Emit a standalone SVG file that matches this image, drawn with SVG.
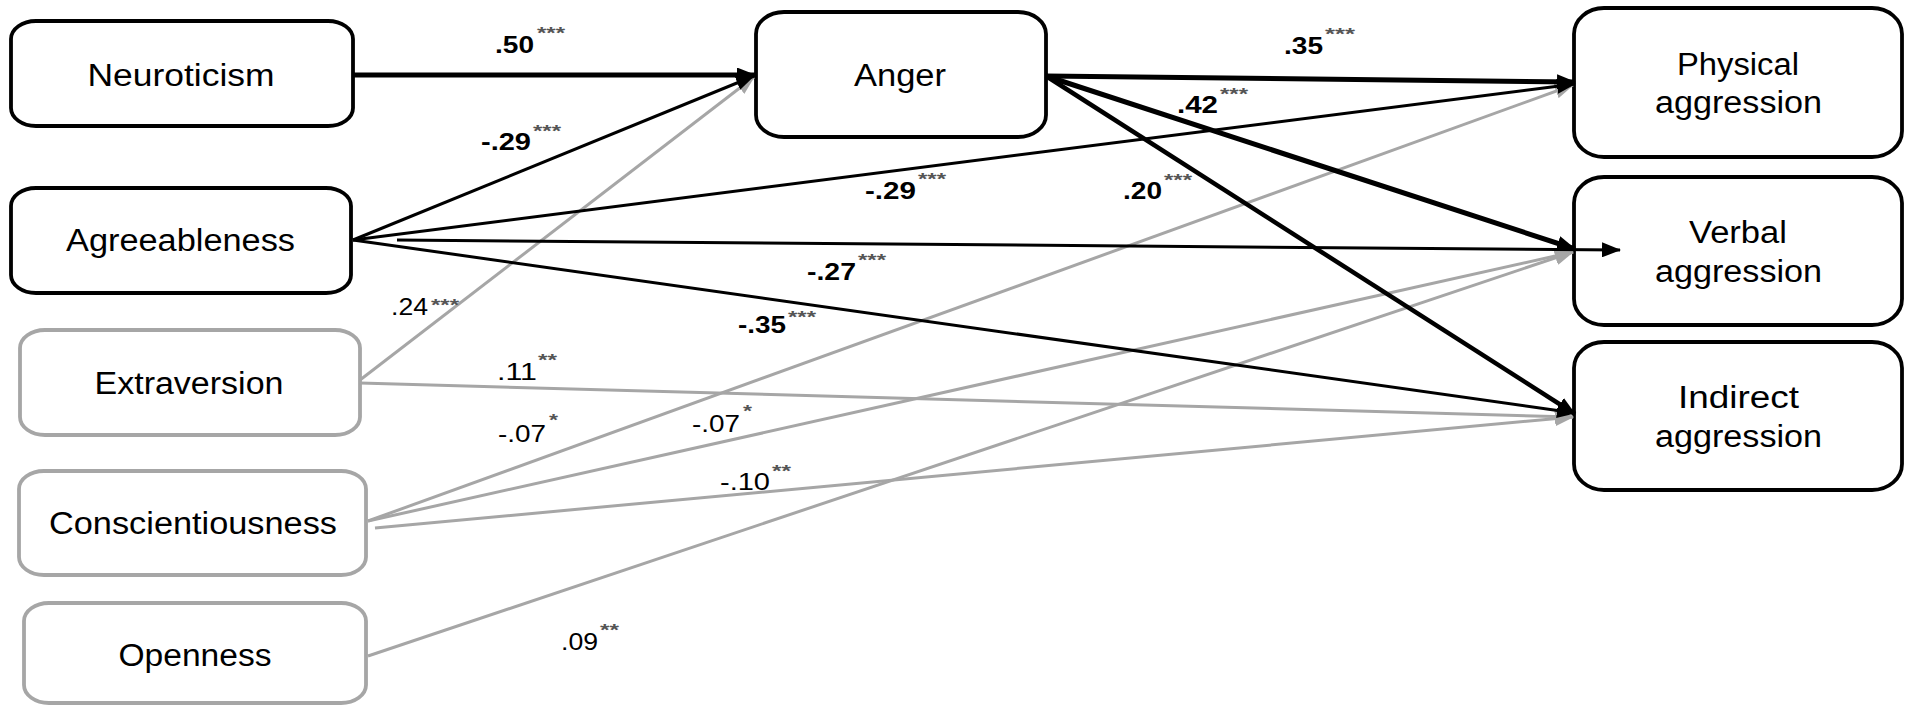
<svg xmlns="http://www.w3.org/2000/svg" width="1907" height="707" viewBox="0 0 1907 707">
<style>
.bg{fill:#ffffff}
.box{fill:#ffffff;stroke:#000000;stroke-width:3.8}
.gbox{fill:#ffffff;stroke:#a6a6a6;stroke-width:3.8}
.lbl{font-family:"Liberation Sans",Arial,sans-serif;font-size:31px;fill:#000000;text-anchor:middle}
.num{font-family:"Liberation Sans",Arial,sans-serif;font-size:23px;fill:#000000;text-anchor:end}
.b{font-weight:bold}
.st{font-family:"Liberation Sans",Arial,sans-serif;font-size:16px;font-weight:bold;fill:#555555}
.k{stroke:#000000;fill:none}
.g{stroke:#a6a6a6;fill:none;stroke-width:3}
</style>
<defs>
<marker id="ak" markerUnits="userSpaceOnUse" markerWidth="19" markerHeight="15" refX="18" refY="7.5" orient="auto">
<path d="M0,0 L19,7.5 L0,15 z" fill="#000000"/>
</marker>
<marker id="ag" markerUnits="userSpaceOnUse" markerWidth="19" markerHeight="15" refX="18" refY="7.5" orient="auto">
<path d="M0,0 L19,7.5 L0,15 z" fill="#a6a6a6"/>
</marker>
</defs>
<rect class="bg" x="0" y="0" width="1907" height="707"/>

<g id="neuroticism">
<rect class="box" x="11" y="21" width="342" height="105" rx="25" ry="18"/>
<text class="lbl" x="181" y="86" textLength="187" lengthAdjust="spacingAndGlyphs">Neuroticism</text>
</g>
<g id="agreeableness">
<rect class="box" x="11" y="188" width="340" height="105" rx="25" ry="18"/>
<text class="lbl" x="180.5" y="251" textLength="229" lengthAdjust="spacingAndGlyphs">Agreeableness</text>
</g>
<g id="extraversion">
<rect class="gbox" x="20" y="330" width="340" height="105" rx="25" ry="18"/>
<text class="lbl" x="189" y="394" textLength="189" lengthAdjust="spacingAndGlyphs">Extraversion</text>
</g>
<g id="conscientiousness">
<rect class="gbox" x="19" y="471" width="347" height="104" rx="25" ry="18"/>
<text class="lbl" x="193" y="534" textLength="288" lengthAdjust="spacingAndGlyphs">Conscientiousness</text>
</g>
<g id="openness">
<rect class="gbox" x="24" y="603" width="342" height="100" rx="25" ry="18"/>
<text class="lbl" x="195" y="666" textLength="153" lengthAdjust="spacingAndGlyphs">Openness</text>
</g>
<g id="anger">
<rect class="box" x="756" y="12" width="290" height="125" rx="28" ry="22"/>
<text class="lbl" x="900" y="86" textLength="92" lengthAdjust="spacingAndGlyphs">Anger</text>
</g>
<g id="physical">
<rect class="box" x="1574" y="8" width="328" height="149" rx="30" ry="26"/>
<text class="lbl" x="1738" y="75" textLength="122" lengthAdjust="spacingAndGlyphs">Physical</text>
<text class="lbl" x="1738.5" y="113" textLength="167" lengthAdjust="spacingAndGlyphs">aggression</text>
</g>
<g id="verbal">
<rect class="box" x="1574" y="177" width="328" height="148" rx="30" ry="26"/>
<text class="lbl" x="1738" y="243" textLength="98" lengthAdjust="spacingAndGlyphs">Verbal</text>
<text class="lbl" x="1738.5" y="282" textLength="167" lengthAdjust="spacingAndGlyphs">aggression</text>
</g>
<g id="indirect">
<rect class="box" x="1574" y="342" width="328" height="148" rx="30" ry="26"/>
<text class="lbl" x="1738.5" y="408" textLength="121" lengthAdjust="spacingAndGlyphs">Indirect</text>
<text class="lbl" x="1738.5" y="447" textLength="167" lengthAdjust="spacingAndGlyphs">aggression</text>
</g>

<g id="connectors">
<line class="g" x1="360" y1="380" x2="754" y2="77" marker-end="url(#ag)"/>
<line class="g" x1="360" y1="383" x2="1573" y2="417" marker-end="url(#ag)"/>
<line class="g" x1="368" y1="521" x2="1573" y2="85" marker-end="url(#ag)"/>
<line class="g" x1="368" y1="521" x2="1573" y2="252" marker-end="url(#ag)"/>
<line class="g" x1="375" y1="528" x2="1573" y2="417" marker-end="url(#ag)"/>
<line class="g" x1="368" y1="656" x2="1573" y2="252" marker-end="url(#ag)"/>
<line class="k" stroke-width="5" x1="353" y1="75" x2="755" y2="75" marker-end="url(#ak)"/>
<line class="k" stroke-width="3" x1="353" y1="240" x2="754" y2="76" marker-end="url(#ak)"/>
<line class="k" stroke-width="3" x1="353" y1="240" x2="1575" y2="84" marker-end="url(#ak)"/>
<line class="k" stroke-width="3" x1="397" y1="240" x2="1620" y2="250" marker-end="url(#ak)"/>
<line class="k" stroke-width="3" x1="353" y1="240" x2="1575" y2="413" marker-end="url(#ak)"/>
<line class="k" stroke-width="5" x1="1046" y1="76" x2="1575" y2="82" marker-end="url(#ak)"/>
<line class="k" stroke-width="5" x1="1046" y1="76" x2="1575" y2="249" marker-end="url(#ak)"/>
<line class="k" stroke-width="4.5" x1="1046" y1="76" x2="1575" y2="414" marker-end="url(#ak)"/>
</g>

<g id="labels">
<text class="num b" x="534" y="53" textLength="39" lengthAdjust="spacingAndGlyphs">.50</text>
<text class="st" x="537" y="39" textLength="28" lengthAdjust="spacingAndGlyphs">***</text>
<text class="num b" x="531" y="150" textLength="50" lengthAdjust="spacingAndGlyphs">-.29</text>
<text class="st" x="533" y="136.5" textLength="28" lengthAdjust="spacingAndGlyphs">***</text>
<text class="num b" x="1323" y="54" textLength="39" lengthAdjust="spacingAndGlyphs">.35</text>
<text class="st" x="1325" y="39.5" textLength="30" lengthAdjust="spacingAndGlyphs">***</text>
<text class="num b" x="1218" y="113" textLength="41" lengthAdjust="spacingAndGlyphs">.42</text>
<text class="st" x="1220" y="99.5" textLength="28" lengthAdjust="spacingAndGlyphs">***</text>
<text class="num b" x="916" y="199" textLength="51" lengthAdjust="spacingAndGlyphs">-.29</text>
<text class="st" x="918" y="184.5" textLength="28" lengthAdjust="spacingAndGlyphs">***</text>
<text class="num b" x="1162" y="199" textLength="39" lengthAdjust="spacingAndGlyphs">.20</text>
<text class="st" x="1164" y="186" textLength="28" lengthAdjust="spacingAndGlyphs">***</text>
<text class="num b" x="856" y="280" textLength="49" lengthAdjust="spacingAndGlyphs">-.27</text>
<text class="st" x="858" y="266" textLength="28" lengthAdjust="spacingAndGlyphs">***</text>
<text class="num b" x="786" y="333" textLength="48" lengthAdjust="spacingAndGlyphs">-.35</text>
<text class="st" x="788" y="323" textLength="28" lengthAdjust="spacingAndGlyphs">***</text>
<text class="num" x="428" y="315" textLength="37" lengthAdjust="spacingAndGlyphs">.24</text>
<text class="st" x="431" y="311" textLength="28" lengthAdjust="spacingAndGlyphs">***</text>
<text class="num" x="537" y="380" textLength="40" lengthAdjust="spacingAndGlyphs">.11</text>
<text class="st" x="538" y="366" textLength="19" lengthAdjust="spacingAndGlyphs">**</text>
<text class="num" x="546" y="442" textLength="48" lengthAdjust="spacingAndGlyphs">-.07</text>
<text class="st" x="549" y="426" textLength="9" lengthAdjust="spacingAndGlyphs">*</text>
<text class="num" x="740" y="432" textLength="48" lengthAdjust="spacingAndGlyphs">-.07</text>
<text class="st" x="743" y="417" textLength="9" lengthAdjust="spacingAndGlyphs">*</text>
<text class="num" x="770" y="490" textLength="50" lengthAdjust="spacingAndGlyphs">-.10</text>
<text class="st" x="772" y="477" textLength="19" lengthAdjust="spacingAndGlyphs">**</text>
<text class="num" x="598" y="650" textLength="37" lengthAdjust="spacingAndGlyphs">.09</text>
<text class="st" x="600" y="636" textLength="19" lengthAdjust="spacingAndGlyphs">**</text>
</g>
</svg>
